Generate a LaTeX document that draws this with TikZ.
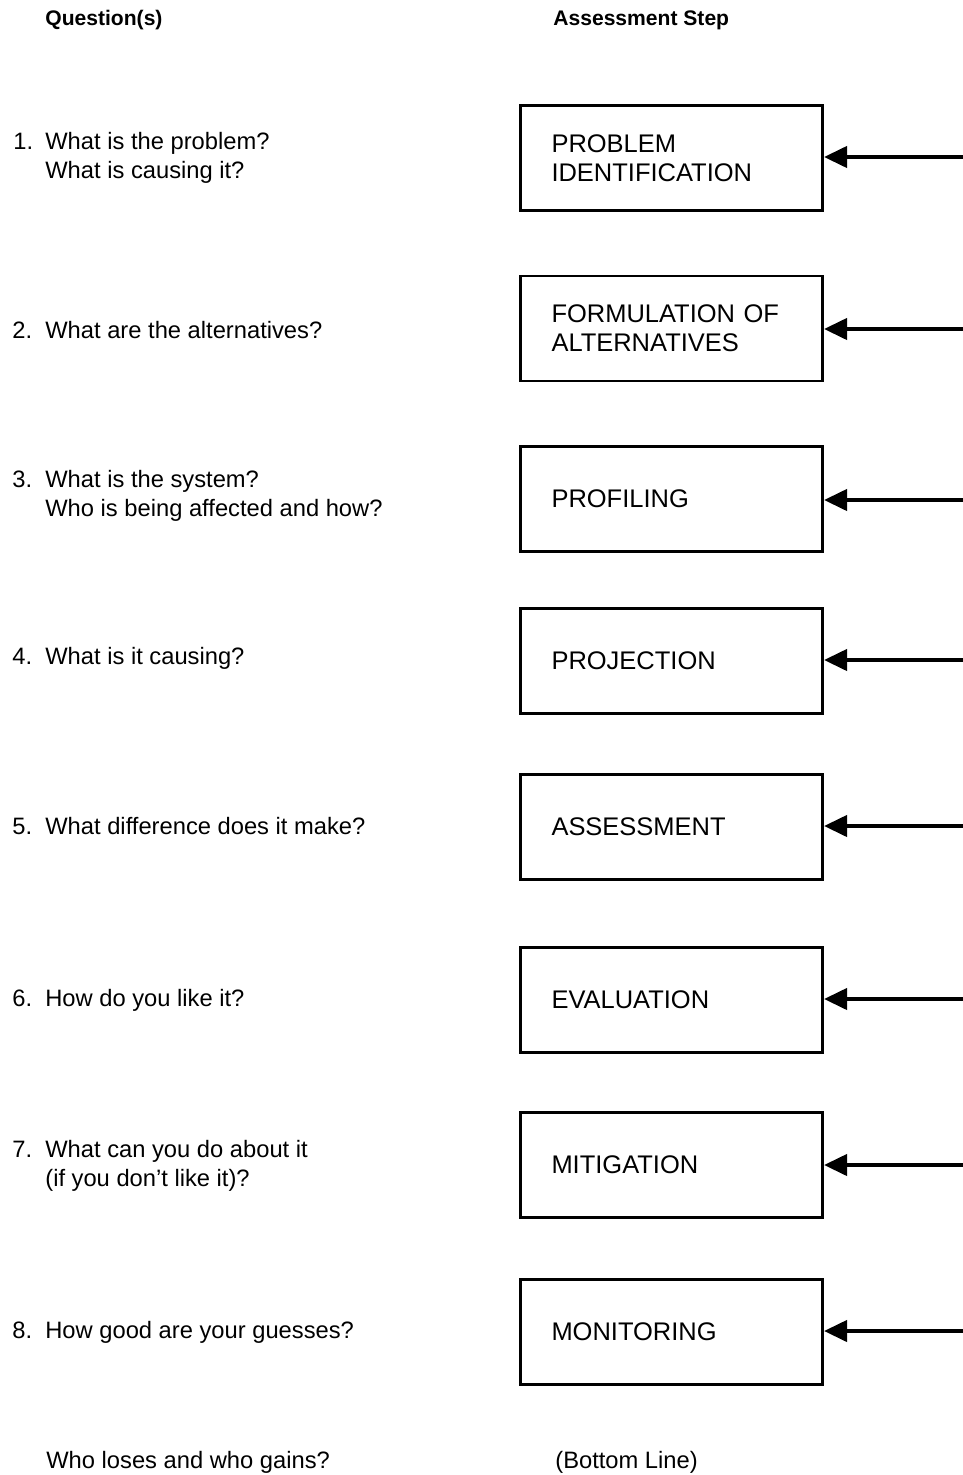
\documentclass[tikz,border=0pt]{standalone}
\usepackage{fontspec}
\setmainfont{Liberation Sans}
\usetikzlibrary{arrows.meta}

\begin{document}
\begin{tikzpicture}[
    stepbox/.style={draw, line width=1.7pt, minimum height=2.1cm, text width=4.8cm,
      inner xsep=0.62cm, align=left, font=\fontsize{14.5}{16.5}\selectfont},
    quest/.style={anchor=west, align=left, inner sep=0pt, font=\fontsize{13.5}{16.5}\selectfont},
    heading/.style={anchor=west, inner sep=0pt, font=\fontsize{12}{14}\selectfont\bfseries},
    feed/.style={line width=2.3pt, -{Triangle[length=0.46cm, width=0.42cm]}}
  ]
          \useasboundingbox (0,0) rectangle (19.26,-29.5);

          \node[heading] (hq) at (0.9,-0.4) {Question(s)};
          \node[heading] (hs) at (11.06,-0.4) {Assessment Step};

          \node[stepbox] (s1) at (13.43,-3.16) {PROBLEM\\IDENTIFICATION};
          \node[stepbox] (s2) at (13.43,-6.57) {FORMULATION OF\\ALTERNATIVES};
          \node[stepbox] (s3) at (13.43,-9.98) {PROFILING};
          \node[stepbox] (s4) at (13.43,-13.21) {PROJECTION};
          \node[stepbox] (s5) at (13.43,-16.54) {ASSESSMENT};
          \node[stepbox] (s6) at (13.43,-20.0) {EVALUATION};
          \node[stepbox] (s7) at (13.43,-23.3) {MITIGATION};
          \node[stepbox] (s8) at (13.43,-26.63) {MONITORING};

          \node[quest] (q1) at (0.26,-3.16) {\makebox[0.64cm][l]{1.}What is the problem?\\\hspace*{0.64cm}What is causing it?};
          \node[quest] (q2) at (0.24,-6.6) {\makebox[0.66cm][l]{2.}What are the alternatives?};
          \node[quest] (q3) at (0.24,-9.91) {\makebox[0.66cm][l]{3.}What is the system?\\\hspace*{0.66cm}Who is being affected and how?};
          \node[quest] (q4) at (0.24,-13.16) {\makebox[0.66cm][l]{4.}What is it causing?};
          \node[quest] (q5) at (0.24,-16.52) {\makebox[0.66cm][l]{5.}What difference does it make?};
          \node[quest] (q6) at (0.24,-20.0) {\makebox[0.66cm][l]{6.}How do you like it?};
          \node[quest] (q7) at (0.24,-23.32) {\makebox[0.66cm][l]{7.}What can you do about it\\\hspace*{0.66cm}(if you don't like it)?};
          \node[quest] (q8) at (0.24,-26.64) {\makebox[0.66cm][l]{8.}How good are your guesses?};

          \node[quest] (qb) at (0.92,-29.24) {Who loses and who gains?};
          \node[quest] (sb) at (11.1,-29.24) {(Bottom Line)};

          \coordinate (r1) at (19.26,-3.14);
          \coordinate (r2) at (19.26,-6.58);
          \coordinate (r3) at (19.26,-10.0);
          \coordinate (r4) at (19.26,-13.2);
          \coordinate (r5) at (19.26,-16.52);
          \coordinate (r6) at (19.26,-19.98);
          \coordinate (r7) at (19.26,-23.3);
          \coordinate (r8) at (19.26,-26.62);

          \draw[feed] (r1) -- (s1.east |- r1);
          \draw[feed] (r2) -- (s2.east |- r2);
          \draw[feed] (r3) -- (s3.east |- r3);
          \draw[feed] (r4) -- (s4.east |- r4);
          \draw[feed] (r5) -- (s5.east |- r5);
          \draw[feed] (r6) -- (s6.east |- r6);
          \draw[feed] (r7) -- (s7.east |- r7);
          \draw[feed] (r8) -- (s8.east |- r8);
        \end{tikzpicture}
\end{document}
